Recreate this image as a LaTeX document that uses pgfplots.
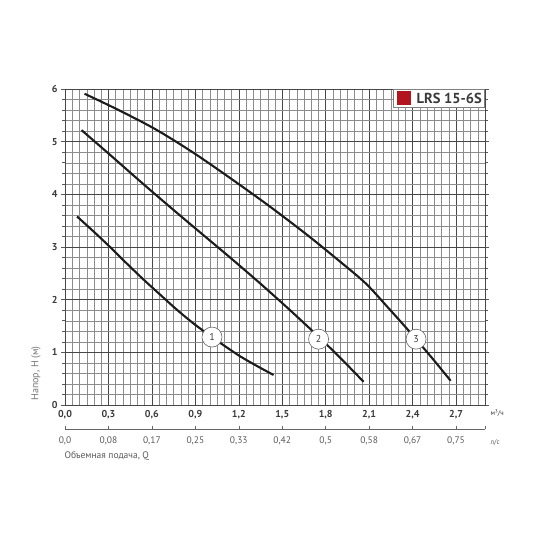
\documentclass[border=0pt]{standalone}
\usepackage{pgfplots}
\pgfplotsset{compat=1.18}
\usepackage{fontspec}
\setmainfont{PT Sans}
\definecolor{lrsred}{HTML}{B3151E}
\definecolor{txt}{HTML}{3A3A3A}
\definecolor{curve}{HTML}{1C1C1C}
\begin{document}
\begin{tikzpicture}
\path[use as bounding box] (0,0) rectangle (550pt,550pt);
\begin{axis}[
  at={(65pt,145pt)}, anchor=south west,
  scale only axis, width=420pt, height=316pt,
  xmin=0, xmax=2.9, ymin=0, ymax=6,
  xtick={0,0.3,0.6,0.9,1.2,1.5,1.8,2.1,2.4,2.7},
  xticklabels={{0,0},{0,3},{0,6},{0,9},{1,2},{1,5},{1,8},{2,1},{2,4},{2,7}},
  ytick={0,1,2,3,4,5,6},
  yticklabels={0,1,2,3,4,5,6},
  minor xtick={0.05,0.1,0.15,0.2,0.25,0.35,0.4,0.45,0.5,0.55,0.65,0.7,0.75,0.8,0.85,0.95,1.0,1.05,1.1,1.15,1.25,1.3,1.35,1.4,1.45,1.55,1.6,1.65,1.7,1.75,1.85,1.9,1.95,2.0,2.05,2.15,2.2,2.25,2.3,2.35,2.45,2.5,2.55,2.6,2.65,2.75,2.8,2.85},
  minor ytick={0.2,0.4,0.6,0.8,1.2,1.4,1.6,1.8,2.2,2.4,2.6,2.8,3.2,3.4,3.6,3.8,4.2,4.4,4.6,4.8,5.2,5.4,5.6,5.8},
  grid=both,
  minor grid style={draw=black!45, line width=0.4pt},
  major grid style={draw=black!72, line width=0.55pt},
  axis line style={draw=black!72, line width=0.65pt},
  tick align=outside,
  major tick length=4pt, minor tick length=2.5pt,
  xtick style={draw=none},
  ytick style={draw=black!65, line width=0.5pt},
  x tick label style={font=\bfseries\fontsize{10}{12}\selectfont, text=txt, yshift=2pt},
  y tick label style={font=\bfseries\fontsize{10}{12}\selectfont, text=txt},
  clip=false,
]
\addplot[curve, line width=2.1pt, smooth] coordinates {
 (0.083,3.58) (0.207,3.27) (0.311,3.00) (0.414,2.72) (0.539,2.39) (0.663,2.08) (0.772,1.81) (0.891,1.54) (1.015,1.29) (1.119,1.09) (1.212,0.92) (1.326,0.74) (1.44,0.57)
};
\addplot[curve, line width=2.1pt, smooth] coordinates {
 (0.114,5.22) (0.311,4.75) (0.518,4.25) (0.725,3.76) (0.932,3.28) (1.14,2.80) (1.347,2.31) (1.554,1.80) (1.761,1.27) (1.917,0.85) (2.062,0.44)
};
\addplot[curve, line width=2.1pt, smooth] coordinates {
 (0.135,5.91) (0.363,5.61) (0.622,5.24) (0.881,4.80) (1.14,4.31) (1.399,3.80) (1.658,3.26) (1.865,2.80) (2.072,2.32) (2.227,1.86) (2.383,1.38) (2.538,0.88) (2.663,0.46)
};
\addplot[only marks, mark=*, mark size=10pt,
  mark options={fill=white, draw=black!60, line width=0.6pt},
  nodes near coords, point meta=explicit symbolic,
  every node near coord/.style={anchor=center, font=\fontsize{10}{12}\selectfont, text=txt}]
  table[meta=lab] {
x y lab
1.015 1.29 1
1.751 1.25 2
2.424 1.25 3
};
\node[anchor=west, font=\fontsize{7}{8}\selectfont, text=txt] at ([xshift=2pt, yshift=-8pt]rel axis cs:1,0) {м³/ч};
\node[rotate=90, anchor=west, font=\fontsize{10}{11}\selectfont, text=black!55] at ([xshift=-29pt, yshift=1pt]rel axis cs:0,0) {Напор, H (м)};
\node[anchor=north east, draw=black!50, fill=white, line width=0.6pt, inner xsep=3pt, inner ysep=2pt,
  font=\bfseries\fontsize{14.5}{15}\selectfont, text=txt] at (rel axis cs:1,1)
  {\textcolor{lrsred}{\rule[-1.5pt]{14pt}{14pt}}\hspace{6pt}LRS 15-6S\hspace{5pt}};
\end{axis}
\begin{axis}[
  at={(65pt,121pt)}, anchor=south west,
  scale only axis, width=420pt, height=1pt,
  xmin=0, xmax=2.9, ymin=0, ymax=1,
  hide y axis,
  axis x line*=bottom,
  axis line style={draw=black!60, line width=0.7pt, -},
  xtick={0,0.3,0.6,0.9,1.2,1.5,1.8,2.1,2.4,2.7,2.9},
  xticklabels={{0,0},{0,08},{0,17},{0,25},{0,33},{0,42},{0,5},{0,58},{0,67},{0,75},{}},
  tick align=inside, major tick length=3pt,
  xtick style={draw=black!60, line width=0.5pt},
  x tick label style={font=\fontsize{9.5}{11}\selectfont, text=black!65, yshift=-4pt},
  clip=false,
]
\node[anchor=west, font=\fontsize{7}{8}\selectfont, text=black!65] at ([xshift=2pt, yshift=-13pt]rel axis cs:1,0) {л/с};
\node[anchor=north west, font=\fontsize{9.5}{11}\selectfont, text=black!65] at ([xshift=-4pt, yshift=-19pt]rel axis cs:0,0) {Объемная подача, Q};
\end{axis}
\end{tikzpicture}
\end{document}
